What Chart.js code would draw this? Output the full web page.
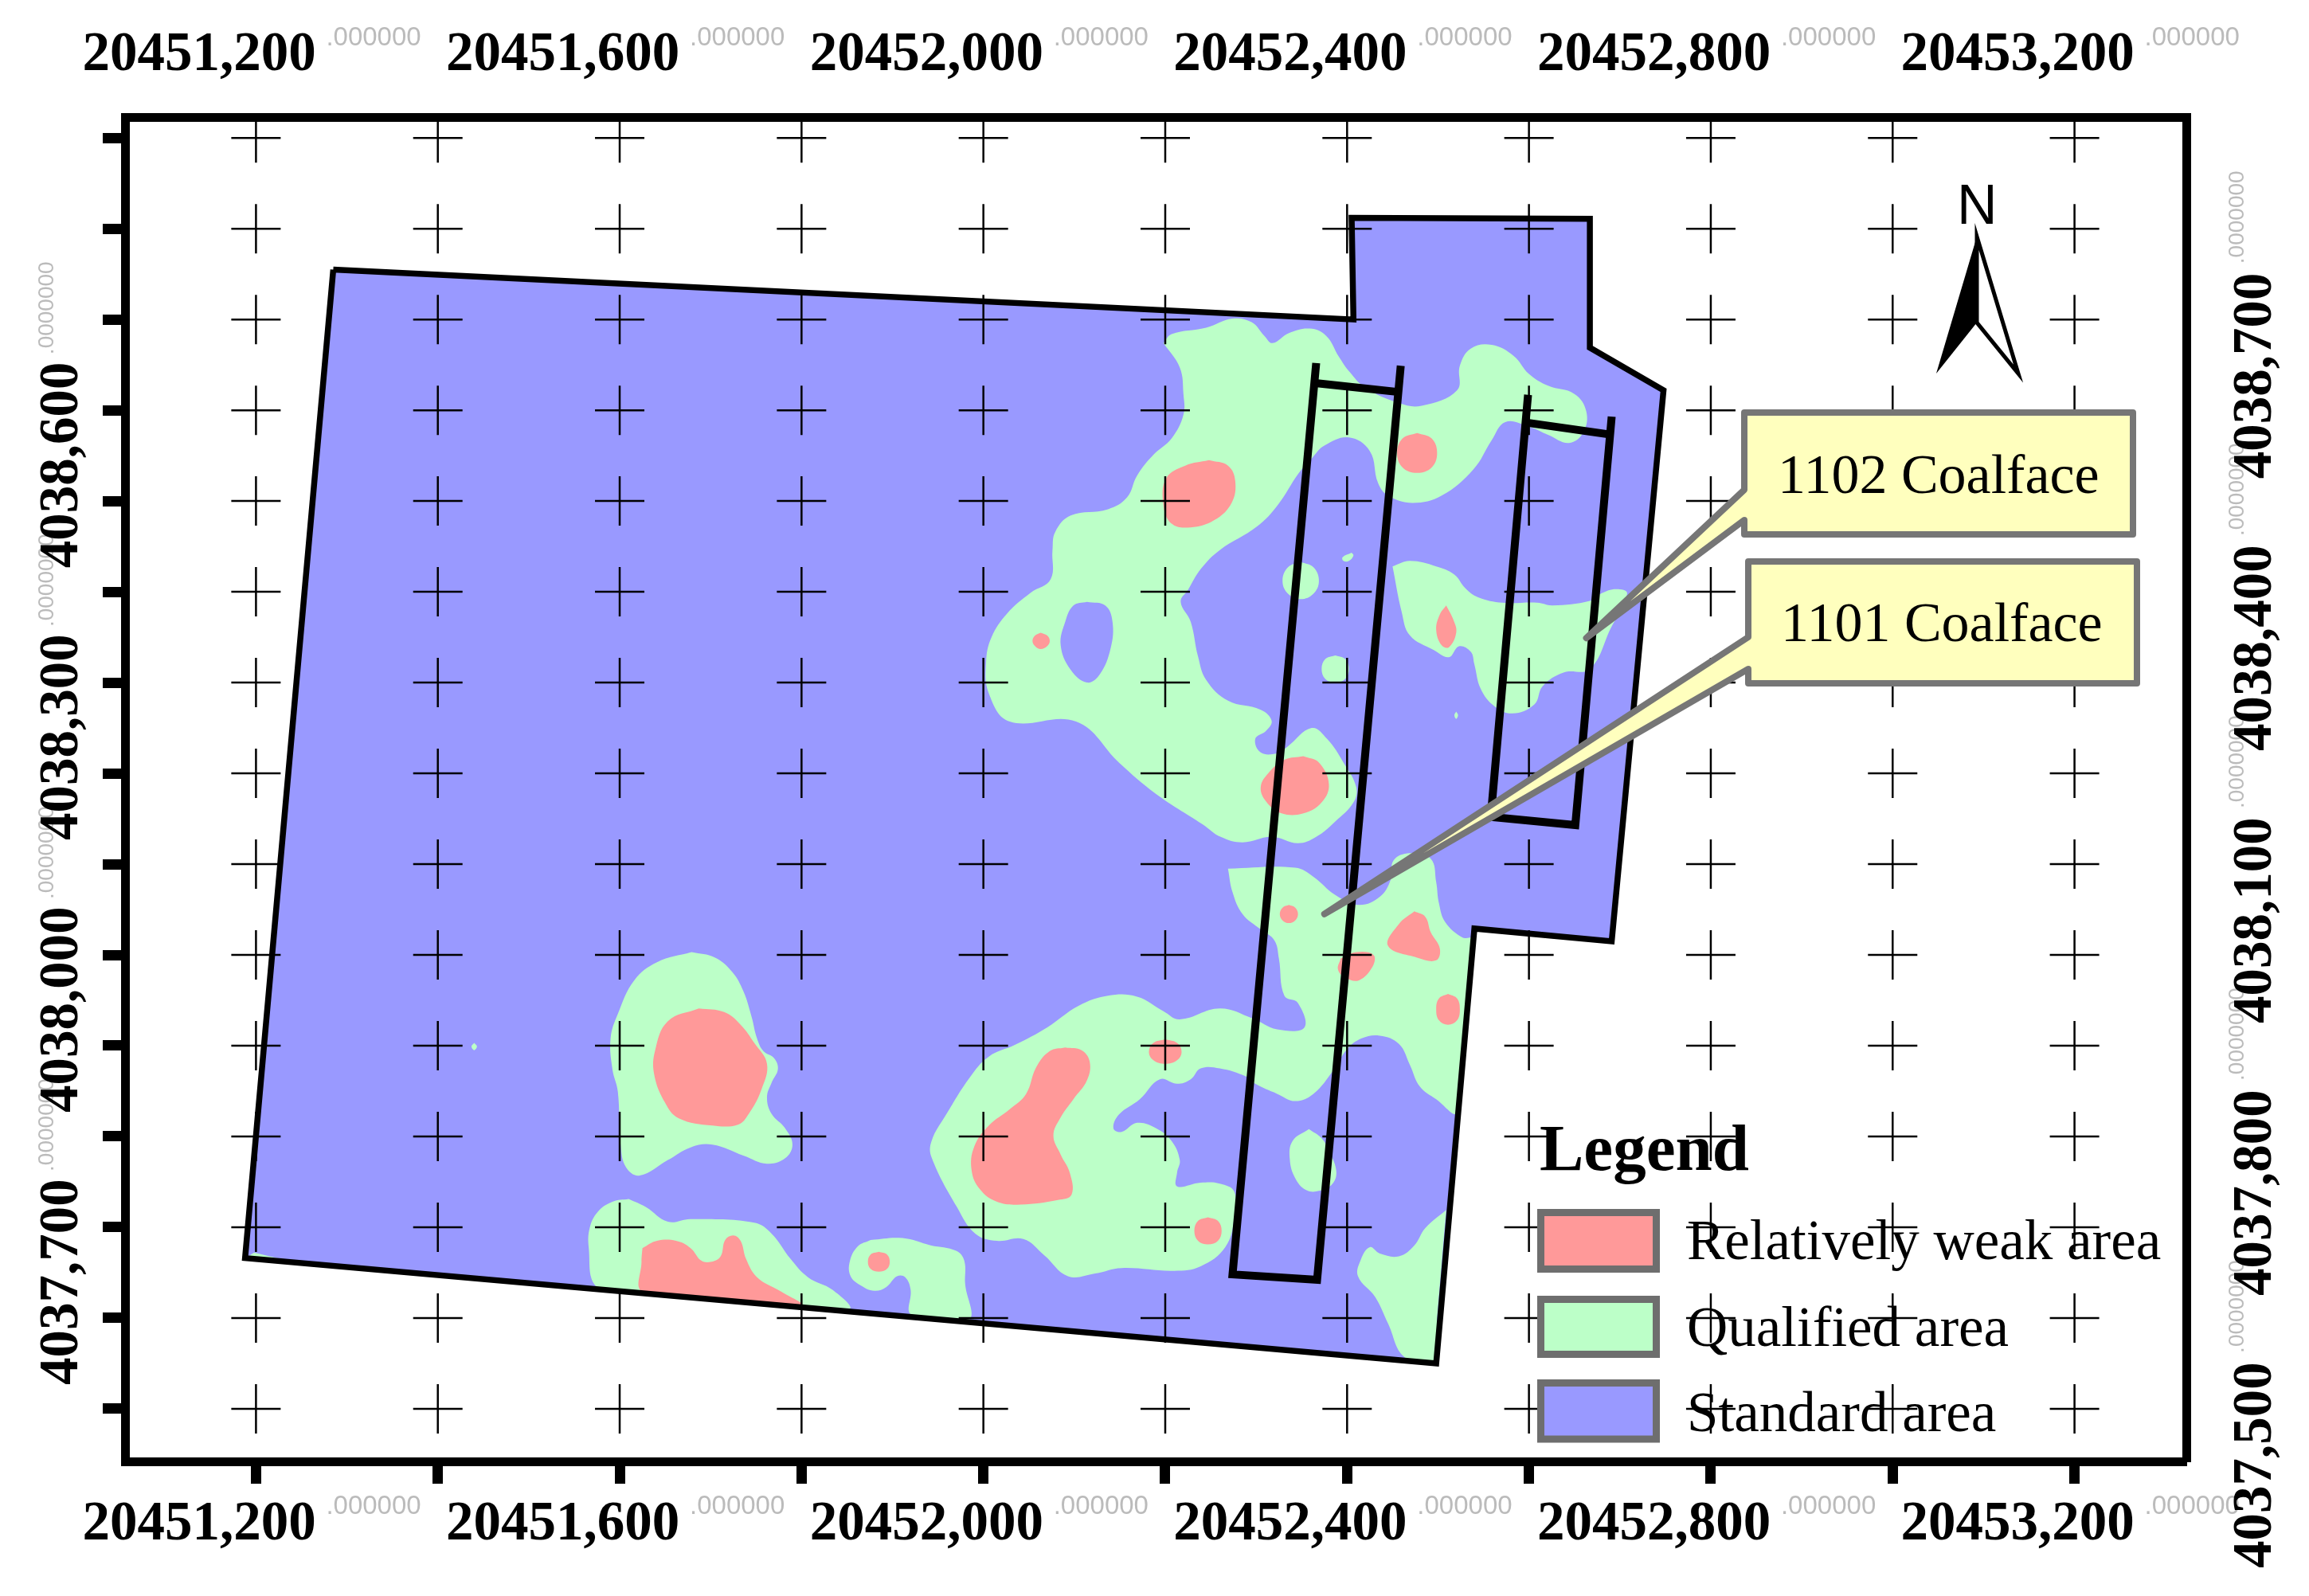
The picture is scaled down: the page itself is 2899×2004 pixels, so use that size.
<!DOCTYPE html>
<html>
<head>
<meta charset="utf-8">
<title>Coal seam zoning map</title>
<style>
html, body { margin: 0; padding: 0; background: #fff; }
canvas { display: block; }
</style>
<script src="https://cdn.jsdelivr.net/npm/chart.js@4/dist/chart.umd.js"></script>
</head>
<body>
<canvas id="map" width="2899" height="2004"></canvas>
<script>
// map values below are metres east of EAST_BASE and north of NORTH_BASE
const EAST_BASE = 20451000;
const NORTH_BASE = 4037000;

const xGridValues = [20451200, 20451400, 20451600, 20451800, 20452000, 20452200, 20452400, 20452600, 20452800, 20453000, 20453200];
const yGridValues = [4037500, 4037600, 4037700, 4037800, 4037900, 4038000, 4038100, 4038200, 4038300, 4038400, 4038500, 4038600, 4038700, 4038800, 4038900];
const xTickValues = [20451200, 20451600, 20452000, 20452400, 20452800, 20453200];
const xTickLabels = ['20451,200', '20451,600', '20452,000', '20452,400', '20452,800', '20453,200'];
const leftTickValues = [4037700, 4038000, 4038300, 4038600];
const leftTickLabels = ['4037,700', '4038,000', '4038,300', '4038,600'];
const rightTickValues = [4037500, 4037800, 4038100, 4038400, 4038700];
const rightTickLabels = ['4037,500', '4037,800', '4038,100', '4038,400', '4038,700'];

const legendNames = ['Relatively weak area', 'Qualified area', 'Standard area'];
const calloutNames = ['1102 Coalface', '1101 Coalface'];
const calloutTips = [[1663, 1349], [1375, 1045]];

const minePanel = [[285, 1755], [1407, 1700], [1405, 1812], [1667, 1811], [1667, 1669], [1748, 1622], [1691, 1015], [1540, 1029], [1498, 550], [188, 666], [285, 1755]];

const coalface1101 = [[1366, 1652], [1274, 648], [1367, 642], [1459, 1649]];
const coalface1101Top = [[1365, 1630], [1458, 1620]];
const coalface1102 = [[1599, 1617], [1558, 1152], [1651, 1143], [1691, 1593]];
const coalface1102Top = [[1600, 1586], [1691, 1573]];

const qualifiedNorth = [
  [1198, 1674], [1207, 1684], [1245, 1691], [1274, 1701], [1295, 1697], [1309, 1682], [1318, 1674], [1336, 1685], [1359, 1690], [1377, 1682],
  [1391, 1659], [1403, 1642], [1420, 1625], [1457, 1608], [1482, 1605], [1521, 1622], [1524, 1649], [1536, 1668], [1559, 1672], [1583, 1660],
  [1600, 1640], [1621, 1627], [1650, 1618], [1663, 1599], [1660, 1576], [1644, 1564], [1621, 1573], [1600, 1582], [1574, 1587], [1559, 1567],
  [1539, 1535], [1504, 1506], [1472, 1498], [1445, 1506], [1434, 1520], [1425, 1555], [1402, 1570], [1375, 1561], [1362, 1548], [1347, 1531],
  [1324, 1496], [1301, 1472], [1260, 1446], [1239, 1425], [1225, 1402], [1217, 1389], [1228, 1367], [1236, 1329], [1245, 1303], [1269, 1280],
  [1305, 1270], [1317, 1258], [1311, 1247], [1299, 1238], [1305, 1223], [1323, 1222], [1334, 1229], [1361, 1250], [1378, 1238], [1396, 1212],
  [1410, 1185], [1407, 1168], [1387, 1147], [1366, 1130], [1346, 1123], [1317, 1130], [1285, 1124], [1261, 1130], [1241, 1144], [1189, 1178],
  [1150, 1211], [1102, 1257], [1029, 1257], [1006, 1288], [1003, 1323], [1009, 1350], [1026, 1376], [1052, 1399], [1074, 1414], [1076, 1446],
  [1079, 1466], [1096, 1484], [1137, 1491], [1158, 1504], [1169, 1528], [1187, 1551], [1207, 1569], [1220, 1595], [1220, 1618], [1216, 1647]
];
const qualifiedEast = [
  [1450, 1428], [1469, 1434], [1498, 1428], [1518, 1419], [1530, 1404], [1544, 1394], [1571, 1388], [1609, 1388], [1626, 1385], [1667, 1390],
  [1679, 1398], [1696, 1403], [1708, 1398], [1690, 1360], [1667, 1315], [1638, 1311], [1615, 1296], [1606, 1276], [1582, 1266], [1562, 1274],
  [1547, 1293], [1540, 1320], [1536, 1334], [1523, 1340], [1512, 1328], [1495, 1336], [1469, 1352], [1460, 1378]
];
const qualifiedSouth = [
  [1269, 1095], [1343, 1096], [1363, 1086], [1387, 1066], [1413, 1055], [1436, 1064], [1448, 1083], [1451, 1104], [1469, 1112], [1492, 1106],
  [1498, 1080], [1501, 1057], [1508, 1036], [1527, 1019], [1537, 1018], [1534, 990], [1528, 900], [1521, 826], [1498, 841], [1480, 855],
  [1469, 879], [1457, 902], [1436, 911], [1416, 908], [1400, 896], [1385, 873], [1363, 847], [1343, 839], [1323, 847], [1299, 858],
  [1289, 866], [1260, 875], [1239, 875], [1228, 863], [1213, 858], [1194, 863], [1172, 841], [1149, 824], [1143, 809], [1152, 805],
  [1169, 815], [1190, 809], [1207, 795], [1216, 774], [1213, 760], [1213, 745], [1239, 749], [1260, 748], [1276, 739], [1276, 710],
  [1266, 678], [1239, 657], [1210, 652], [1152, 655], [1123, 649], [1093, 646], [1067, 669], [1044, 687], [1015, 685], [991, 693],
  [971, 722], [943, 777], [943, 795], [959, 824], [985, 865], [1006, 888], [1035, 901], [1070, 920], [1105, 944], [1137, 955],
  [1169, 954], [1198, 938], [1216, 929], [1260, 941], [1296, 930], [1323, 918], [1353, 920], [1346, 947], [1331, 955], [1325, 996],
  [1320, 1016], [1305, 1028], [1285, 1045], [1274, 1069]
];
const qualifiedOval = [[1358, 808], [1372, 798], [1379, 786], [1388, 763], [1384, 748], [1369, 740], [1355, 741], [1343, 754], [1337, 775], [1340, 795]];
const qualifiedCorner = [[1509, 719], [1486, 699], [1474, 680], [1457, 668], [1436, 671], [1425, 678], [1415, 664], [1412, 646], [1431, 623], [1445, 594], [1463, 557], [1495, 552], [1499, 600], [1504, 660]];
const qualifiedWest = [[679, 1003], [705, 997], [724, 981], [736, 960], [745, 932], [751, 908], [758, 894], [770, 886], [774, 874], [767, 859], [762, 843], [767, 825], [782, 809], [790, 791], [782, 776], [762, 770], [736, 779], [702, 791], [678, 788], [653, 774], [622, 757], [607, 766], [601, 791], [598, 849], [592, 874], [590, 908], [598, 935], [616, 972], [641, 992]];
const qualifiedSouthWest = [[610, 731], [629, 722], [653, 706], [678, 709], [748, 705], [767, 693], [788, 665], [807, 645], [834, 631], [853, 610], [800, 614], [700, 623], [600, 632], [573, 636], [566, 677], [567, 699], [576, 717], [592, 728]];
const qualifiedHook = [[876, 686], [911, 688], [942, 680], [970, 674], [979, 663], [980, 637], [985, 598], [950, 601], [920, 604], [920, 631], [914, 645], [905, 646], [893, 634], [880, 630], [865, 636], [854, 646], [853, 662], [862, 679]];
const qualifiedSpotA = [[1349, 1433], [1363, 1427], [1369, 1412], [1363, 1398], [1349, 1392], [1335, 1398], [1329, 1412], [1335, 1427]];
const qualifiedSpotB = [[1387, 1330], [1398, 1326], [1402, 1315], [1398, 1304], [1387, 1300], [1376, 1304], [1372, 1315], [1376, 1326]];
const qualifiedSpotC = [[1405, 1443], [1407, 1440], [1402, 1434], [1396, 1434], [1395, 1438]];
const qualifiedSpotD = [[440, 903], [443, 899], [440, 895], [437, 899]];
const qualifiedSpotE = [[1520, 1268], [1522, 1264], [1520, 1260], [1518, 1264]];
const qualifiedSliver = [[190, 667], [198, 672], [235, 663]];

const standardHole = [[1114, 1389], [1134, 1385], [1142, 1367], [1140, 1338], [1128, 1309], [1114, 1300], [1096, 1314], [1085, 1341], [1090, 1367], [1099, 1385]];

const weakNorth = [[1248, 1545], [1269, 1539], [1277, 1522], [1273, 1498], [1254, 1479], [1228, 1471], [1207, 1475], [1198, 1496], [1201, 1525], [1222, 1539]];
const weakDot1 = [[1063, 1355], [1070, 1352], [1073, 1346], [1070, 1340], [1063, 1337], [1057, 1340], [1054, 1346], [1057, 1352]];
const weakEye = [[1477, 1575], [1493, 1569], [1499, 1553], [1493, 1537], [1477, 1531], [1461, 1537], [1455, 1553], [1461, 1569]];
const weakDrop = [[1509, 1385], [1517, 1369], [1520, 1355], [1512, 1339], [1504, 1341], [1498, 1358], [1502, 1375]];
const weakCentre = [[1352, 1219], [1369, 1212], [1380, 1188], [1372, 1168], [1352, 1156], [1328, 1156], [1311, 1169], [1305, 1185], [1314, 1201], [1331, 1215]];
const weakDot2 = [[1336, 1055], [1343, 1052], [1346, 1045], [1343, 1038], [1336, 1035], [1329, 1038], [1326, 1045], [1329, 1052]];
const weakLine = [[1393, 996], [1410, 1003], [1429, 1000], [1428, 987], [1413, 972], [1398, 975], [1390, 984]];
const weakTriangle = [[1474, 1048], [1486, 1042], [1492, 1025], [1502, 1007], [1498, 994], [1477, 997], [1445, 1010], [1457, 1034]];
const weakOval = [[1511, 957], [1521, 952], [1524, 940], [1521, 928], [1511, 923], [1501, 928], [1498, 940], [1501, 952]];
const weakBlob = [[1090, 898], [1108, 895], [1117, 882], [1114, 862], [1099, 841], [1085, 821], [1077, 801], [1085, 780], [1095, 760], [1097, 736], [1082, 730], [1041, 725], [1015, 728], [996, 742], [987, 763], [990, 789], [1006, 812], [1029, 830], [1047, 847], [1058, 876], [1073, 894]];
const weakBlobEast = [[1200, 907], [1213, 903], [1218, 893], [1213, 884], [1200, 880], [1187, 884], [1182, 893], [1187, 903]];
const weakDot3 = [[1247, 711], [1258, 707], [1262, 696], [1258, 685], [1247, 681], [1236, 685], [1232, 696], [1236, 707]];
const weakWest = [[687, 941], [715, 937], [733, 923], [748, 903], [762, 880], [756, 852], [742, 825], [730, 813], [702, 812], [665, 820], [650, 837], [638, 868], [639, 895], [653, 927]];
const weakSouthWest = [[625, 677], [641, 685], [662, 685], [678, 677], [690, 663], [701, 662], [711, 668], [716, 686], [725, 691], [733, 685], [739, 665], [751, 645], [776, 630], [800, 614], [700, 622], [625, 629], [624, 662]];
const weakDot4 = [[885, 673], [894, 670], [897, 662], [894, 654], [885, 651], [876, 654], [873, 662], [876, 670]];

const standardColor = '#9999FF';
const qualifiedColor = '#BCFFC8';
const weakColor = '#FF9999';

function toMap(list) {
  return list.map(p => ({ x: EAST_BASE + p[0], y: NORTH_BASE + p[1] }));
}

function closed(list) {
  return list.concat([list[0]]);
}

function area(list, color, tension) {
  return {
    data: toMap(closed(list)),
    showLine: true,
    fill: 'shape',
    backgroundColor: color,
    borderColor: color,
    borderWidth: 0,
    pointRadius: 0,
    tension: tension === undefined ? 0.4 : tension
  };
}

function stroke(list, width) {
  return {
    data: toMap(list),
    showLine: true,
    fill: false,
    borderColor: '#000',
    borderWidth: width,
    pointRadius: 0,
    tension: 0,
    borderJoinStyle: 'miter',
    borderCapStyle: 'butt'
  };
}

const crossPoints = [];
xGridValues.forEach(x => yGridValues.forEach(y => crossPoints.push({ x: x, y: y })));

// listed bottom to top, reversed below because Chart.js paints the first dataset last
const layers = [
  area(minePanel, standardColor, 0),
  area(qualifiedNorth, qualifiedColor),
  area(qualifiedEast, qualifiedColor),
  area(qualifiedSouth, qualifiedColor),
  area(qualifiedOval, qualifiedColor),
  area(qualifiedCorner, qualifiedColor),
  area(qualifiedWest, qualifiedColor),
  area(qualifiedSouthWest, qualifiedColor),
  area(qualifiedHook, qualifiedColor),
  area(qualifiedSpotA, qualifiedColor),
  area(qualifiedSpotB, qualifiedColor),
  area(qualifiedSpotC, qualifiedColor),
  area(qualifiedSpotD, qualifiedColor),
  area(qualifiedSpotE, qualifiedColor),
  area(qualifiedSliver, qualifiedColor, 0),
  area(standardHole, standardColor),
  area(weakNorth, weakColor),
  area(weakDot1, weakColor),
  area(weakEye, weakColor),
  area(weakDrop, weakColor),
  area(weakCentre, weakColor),
  area(weakDot2, weakColor),
  area(weakLine, weakColor),
  area(weakTriangle, weakColor),
  area(weakOval, weakColor),
  area(weakBlob, weakColor),
  area(weakBlobEast, weakColor),
  area(weakDot3, weakColor),
  area(weakWest, weakColor),
  area(weakSouthWest, weakColor),
  area(weakDot4, weakColor),
  stroke(minePanel, 7.5),
  stroke(coalface1101, 10),
  stroke(coalface1101Top, 10),
  stroke(coalface1102, 10),
  stroke(coalface1102Top, 10),
  {
    data: crossPoints,
    pointStyle: 'cross',
    pointRadius: 31,
    pointBorderColor: '#000',
    pointBorderWidth: 2.5,
    showLine: false
  }
];

const SERIF = '"Liberation Serif"';
const SANS = '"Liberation Sans"';

function text(ctx, str, x, y, font, color, angle) {
  ctx.save();
  ctx.translate(x, y);
  if (angle) ctx.rotate(angle);
  ctx.font = font;
  ctx.fillStyle = color;
  ctx.textAlign = 'left';
  ctx.textBaseline = 'alphabetic';
  ctx.fillText(str, 0, 0);
  ctx.restore();
}

const mapLabels = {
  id: 'mapLabels',
  afterDraw(chart) {
    const ctx = chart.ctx;
    const sx = chart.scales.x;
    const sy = chart.scales.y;
    const mainFont = 'bold 69px ' + SERIF;

    // coordinate labels, each with its faint decimals
    xTickValues.forEach((v, i) => {
      const px = sx.getPixelForValue(v);
      [[88, 57], [1933, 1901]].forEach(row => {
        text(ctx, xTickLabels[i], px - 218, row[0], mainFont, '#000');
        text(ctx, '.000000', px + 88, row[1], '33px ' + SANS, '#bbb');
      });
    });
    leftTickValues.forEach((v, i) => {
      const py = sy.getPixelForValue(v);
      text(ctx, '.0000000', 67, py - 70, '28px ' + SANS, '#bbb', -Math.PI / 2);
      text(ctx, leftTickLabels[i], 97, py + 198, mainFont, '#000', -Math.PI / 2);
    });
    rightTickValues.forEach((v, i) => {
      const py = sy.getPixelForValue(v);
      text(ctx, '.0000000', 2817, py - 70, '28px ' + SANS, '#bbb', -Math.PI / 2);
      text(ctx, rightTickLabels[i], 2851, py + 200, mainFont, '#000', -Math.PI / 2);
    });

    // callouts
    const boxes = [
      { l: 2190, t: 518, r: 2678, b: 671, w1: 615, w2: 653, tx: 2232, ty: 619 },
      { l: 2195, t: 705, r: 2683, b: 858, w1: 800, w2: 840, tx: 2236, ty: 805 }
    ];
    boxes.forEach((b, i) => {
      const tipX = sx.getPixelForValue(EAST_BASE + calloutTips[i][0]);
      const tipY = sy.getPixelForValue(NORTH_BASE + calloutTips[i][1]);
      ctx.beginPath();
      ctx.moveTo(b.l, b.t);
      ctx.lineTo(b.r, b.t);
      ctx.lineTo(b.r, b.b);
      ctx.lineTo(b.l, b.b);
      ctx.lineTo(b.l, b.w2);
      ctx.lineTo(tipX, tipY);
      ctx.lineTo(b.l, b.w1);
      ctx.closePath();
      ctx.fillStyle = '#FFFFBE';
      ctx.fill();
      ctx.lineWidth = 8;
      ctx.lineJoin = 'round';
      ctx.strokeStyle = '#767676';
      ctx.stroke();
      text(ctx, calloutNames[i], b.tx, b.ty, '70px ' + SERIF, '#000');
    });

    // north arrow
    text(ctx, 'N', 2457, 281, '70px ' + SANS, '#000');
    ctx.beginPath();
    ctx.moveTo(2482, 297);
    ctx.lineTo(2534, 469);
    ctx.lineTo(2482, 405);
    ctx.closePath();
    ctx.fillStyle = '#fff';
    ctx.fill();
    ctx.lineWidth = 5;
    ctx.lineJoin = 'miter';
    ctx.strokeStyle = '#000';
    ctx.stroke();
    ctx.beginPath();
    ctx.moveTo(2482, 297);
    ctx.lineTo(2431, 469);
    ctx.lineTo(2482, 405);
    ctx.closePath();
    ctx.fillStyle = '#000';
    ctx.fill();

    // legend
    text(ctx, 'Legend', 1933, 1469, 'bold 83px ' + SERIF, '#000');
    const rows = [
      { t: 1522.5, b: 1593.5, base: 1581, color: weakColor },
      { t: 1631.5, b: 1700.5, base: 1690, color: qualifiedColor },
      { t: 1736.5, b: 1807, base: 1797, color: standardColor }
    ];
    rows.forEach((row, i) => {
      ctx.fillStyle = row.color;
      ctx.fillRect(1934.5, row.t, 145, row.b - row.t);
      ctx.lineWidth = 9;
      ctx.strokeStyle = '#6E6E6E';
      ctx.lineJoin = 'miter';
      ctx.strokeRect(1934.5, row.t, 145, row.b - row.t);
      text(ctx, legendNames[i], 2118, row.base, '71px ' + SERIF, '#000');
    });
  }
};

function fixedTicks(values) {
  return scale => { scale.ticks = values.map(v => ({ value: v })); };
}

new Chart(document.getElementById('map'), {
  type: 'scatter',
  data: { datasets: layers.reverse() },
  plugins: [mapLabels],
  options: {
    responsive: false,
    devicePixelRatio: 1,
    animation: false,
    events: [],
    layout: { padding: 0 },
    plugins: { legend: { display: false }, tooltip: { enabled: false } },
    scales: {
      x: {
        type: 'linear', position: 'bottom', min: 20451056, max: 20453323,
        afterBuildTicks: fixedTicks(xGridValues),
        afterFit: s => { s.height = 169; },
        ticks: { display: false },
        grid: { drawOnChartArea: false, tickLength: 28, tickWidth: 13, tickColor: '#000' },
        border: { display: true, width: 11, color: '#000' }
      },
      xTop: {
        type: 'linear', axis: 'x', position: 'top', min: 20451056, max: 20453323,
        afterBuildTicks: fixedTicks([]),
        afterFit: s => { s.height = 147; },
        ticks: { display: false },
        grid: { drawOnChartArea: false, drawTicks: false },
        border: { display: true, width: 11, color: '#000' }
      },
      y: {
        type: 'linear', position: 'left', min: 4037442, max: 4038923,
        afterBuildTicks: fixedTicks(yGridValues),
        afterFit: s => { s.width = 157; },
        ticks: { display: false },
        grid: { drawOnChartArea: false, tickLength: 28, tickWidth: 13, tickColor: '#000' },
        border: { display: true, width: 11, color: '#000' }
      },
      yRight: {
        type: 'linear', axis: 'y', position: 'right', min: 4037442, max: 4038923,
        afterBuildTicks: fixedTicks([]),
        afterFit: s => { s.width = 154; },
        ticks: { display: false },
        grid: { drawOnChartArea: false, drawTicks: false },
        border: { display: true, width: 11, color: '#000' }
      }
    }
  }
});
</script>
</body>
</html>
